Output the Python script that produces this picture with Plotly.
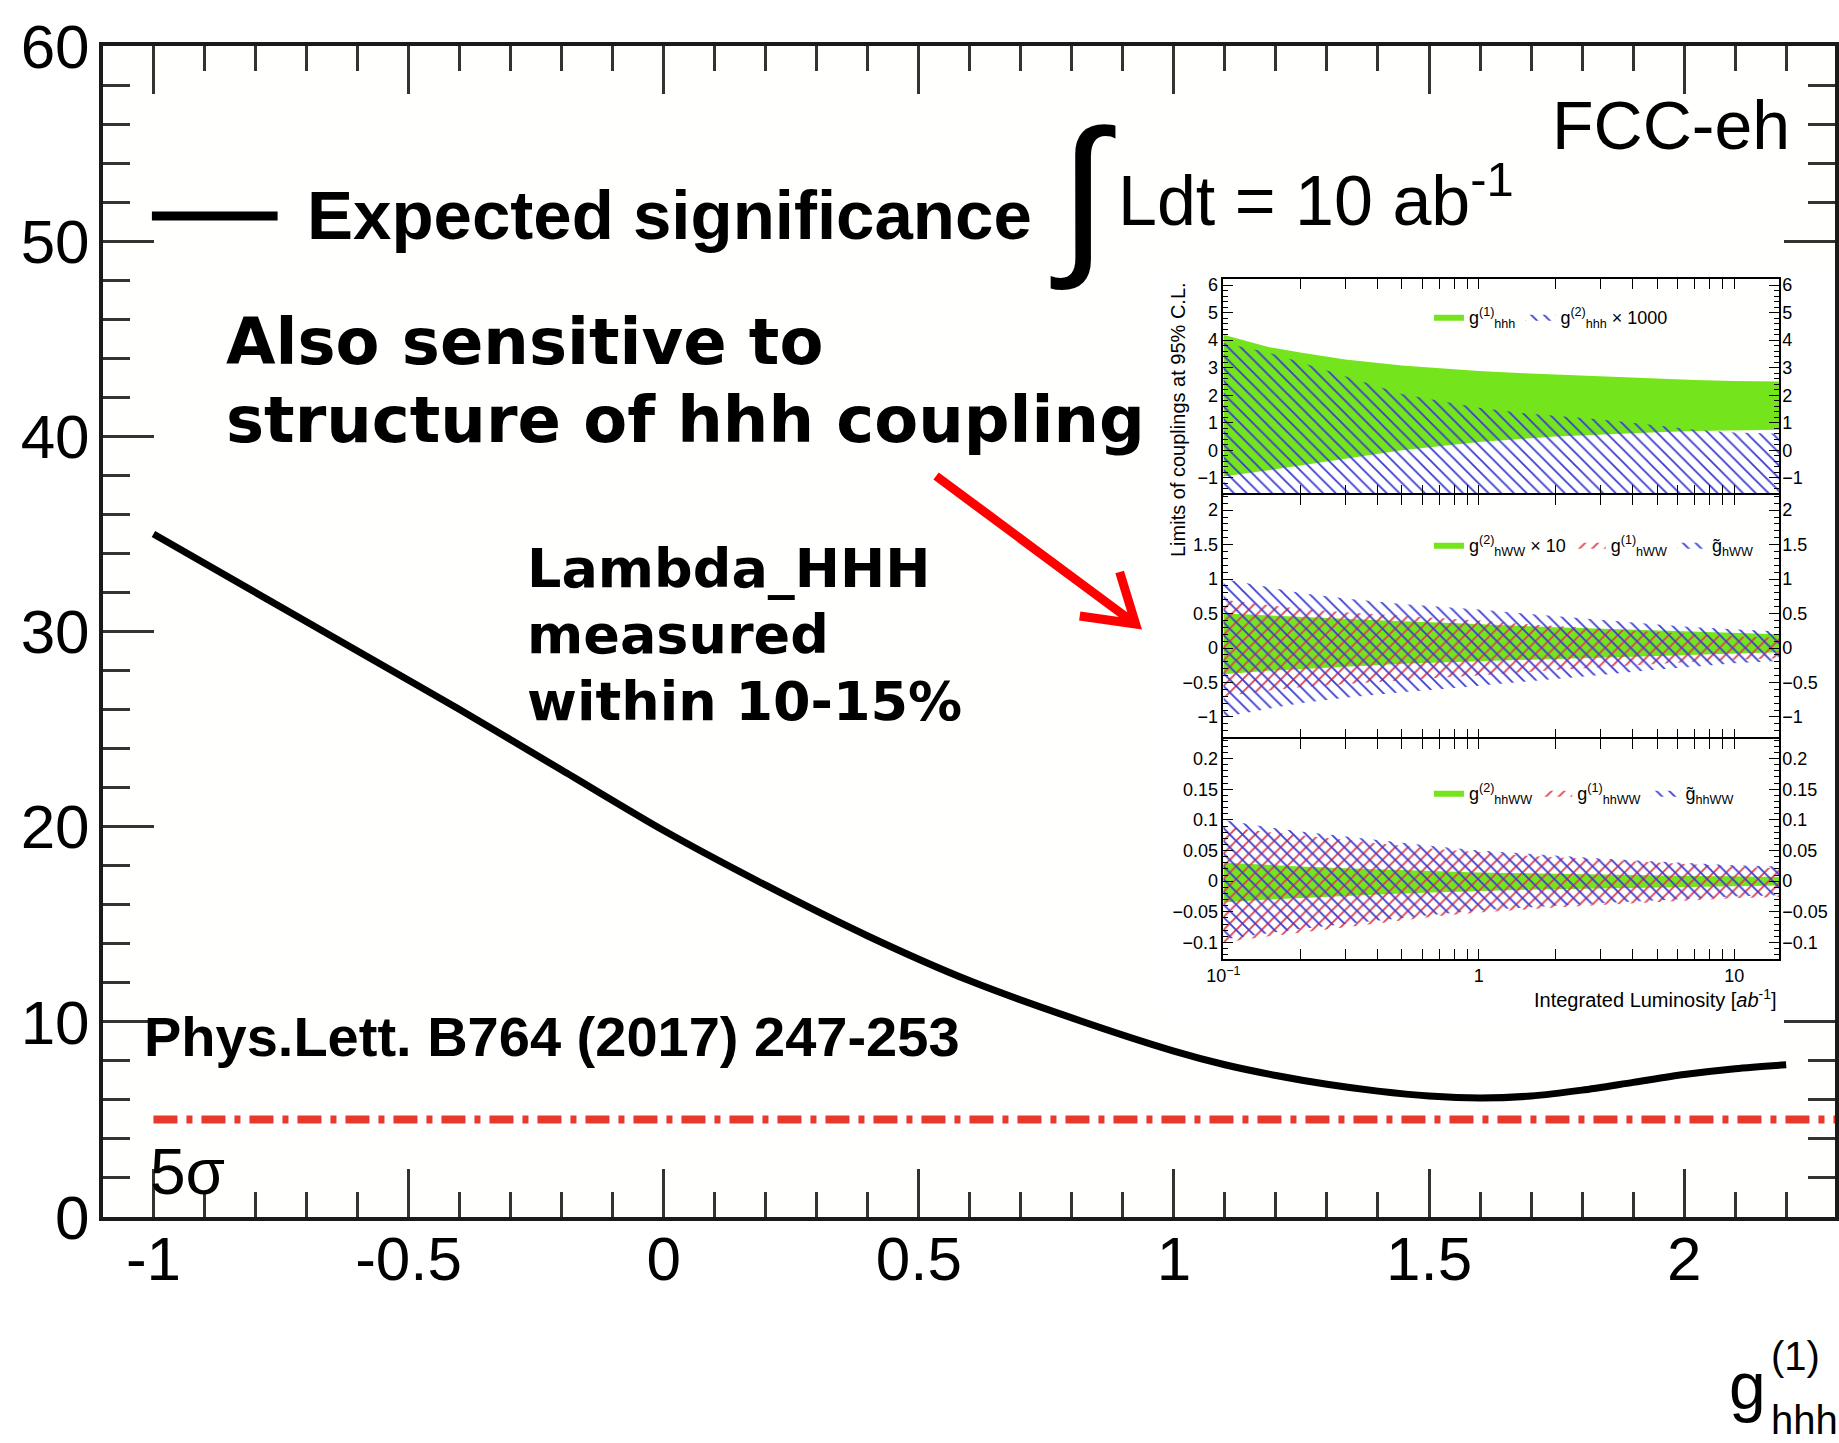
import plotly.graph_objects as go

# ---------------- main chart data ----------------
g_hhh = [-1.0, -0.8, -0.6, -0.4, -0.2, 0.0, 0.2, 0.4, 0.6, 0.8, 1.0, 1.1, 1.2,
         1.3, 1.4, 1.5, 1.6, 1.7, 1.8, 1.9, 2.0, 2.1, 2.2]
significance = [35.0, 32.0, 29.0, 26.0, 22.9, 19.8, 17.0, 14.4, 12.1, 10.2, 8.5, 7.8, 7.25,
                6.8, 6.45, 6.2, 6.1, 6.2, 6.5, 6.9, 7.3, 7.6, 7.8]
five_sigma = 5
x_ticks = [-1, -0.5, 0, 0.5, 1, 1.5, 2]
x_tick_labels = ["-1", "-0.5", "0", "0.5", "1", "1.5", "2"]
y_ticks = [0, 10, 20, 30, 40, 50, 60]
y_tick_labels = ["0", "10", "20", "30", "40", "50", "60"]

# ---------------- inset data (x: integrated luminosity, ab^-1) ----------------
lumi = [0.1, 0.15, 0.2, 0.3, 0.5, 0.7, 1, 1.5, 2, 3, 5, 7, 10, 15]
# top panel
ghhh1_hi = [4.2, 3.75, 3.55, 3.3, 3.08, 2.98, 2.88, 2.8, 2.75, 2.68, 2.6, 2.55, 2.52, 2.5]
ghhh1_lo = [-0.95, -0.72, -0.55, -0.3, 0.0, 0.15, 0.3, 0.42, 0.5, 0.58, 0.66, 0.7, 0.73, 0.75]
ghhh2_hi = [3.9, 3.55, 3.2, 2.7, 2.05, 1.8, 1.55, 1.35, 1.25, 1.12, 0.9, 0.75, 0.65, 0.6]
ghhh2_lo = [-4.5, -4.2, -3.9, -3.6, -3.2, -3.0, -2.8, -2.6, -2.5, -2.4, -2.25, -2.15, -2.05, -2.0]
# middle panel
ghww2_hi = [0.5, 0.47, 0.45, 0.42, 0.39, 0.37, 0.35, 0.32, 0.3, 0.28, 0.25, 0.23, 0.21, 0.2]
ghww2_lo = [-0.38, -0.33, -0.3, -0.27, -0.23, -0.21, -0.19, -0.17, -0.15, -0.13, -0.11, -0.09, -0.08, -0.06]
ghww1_hi = [0.7, 0.62, 0.57, 0.52, 0.47, 0.43, 0.4, 0.35, 0.32, 0.28, 0.23, 0.2, 0.17, 0.15]
ghww1_lo = [-0.7, -0.62, -0.57, -0.52, -0.47, -0.43, -0.4, -0.35, -0.32, -0.28, -0.23, -0.2, -0.17, -0.15]
gthww_hi = [1.0, 0.88, 0.8, 0.72, 0.64, 0.6, 0.56, 0.5, 0.46, 0.41, 0.34, 0.3, 0.27, 0.24]
gthww_lo = [-1.0, -0.88, -0.8, -0.72, -0.64, -0.6, -0.55, -0.49, -0.45, -0.39, -0.31, -0.27, -0.22, -0.19]
# bottom panel
ghhww2_hi = [0.03, 0.026, 0.024, 0.021, 0.018, 0.016, 0.014, 0.013, 0.012, 0.011, 0.0095, 0.0085, 0.008, 0.007]
ghhww2_lo = [-0.035, -0.03, -0.027, -0.024, -0.02, -0.018, -0.016, -0.014, -0.013, -0.012, -0.01, -0.009, -0.008, -0.007]
ghhww1_hi = [0.09, 0.08, 0.075, 0.068, 0.058, 0.052, 0.047, 0.042, 0.039, 0.035, 0.03, 0.027, 0.024, 0.021]
ghhww1_lo = [-0.1, -0.09, -0.083, -0.075, -0.064, -0.057, -0.051, -0.046, -0.043, -0.039, -0.034, -0.031, -0.028, -0.026]
gthhww_hi = [0.1, 0.088, 0.081, 0.073, 0.062, 0.056, 0.05, 0.045, 0.042, 0.037, 0.032, 0.029, 0.026, 0.024]
gthhww_lo = [-0.095, -0.085, -0.078, -0.07, -0.06, -0.054, -0.048, -0.043, -0.04, -0.036, -0.031, -0.028, -0.025, -0.023]

inset_x_ticks = [0.1, 1, 10]
inset_x_tick_labels = ["10<sup>−1</sup>", "1", "10"]
inset_x_minor = [0.2, 0.3, 0.4, 0.5, 0.6, 0.7, 0.8, 0.9, 2, 3, 4, 5, 6, 7, 8, 9]

# ---------------- geometry helpers (pixels -> paper) ----------------
W, H = 1839, 1443
ML, MR, MT, MB = 103, 0, 46, 226
PW, PH = W - ML - MR, H - MT - MB


def fx(p):
    return (p - ML) / PW


def fy(p):
    return (H - MB - p) / PH


FONT = "Liberation Sans, Arial, Helvetica, sans-serif"
HEAVY = "DejaVu Sans, Liberation Sans, sans-serif"
GREEN = "#74e41c"
BLUE = "#3c3cd2"
RED = "#e0404c"

INSET_X = [fx(1226), fx(1783)]
TOP_Y = [fy(495), fy(279)]
MID_Y = [fy(739), fy(495)]
BOT_Y = [fy(959), fy(739)]
BLOCK_X = [fx(1158), 1.0]
BLOCK_Y = [fy(1016), fy(268)]

fig = go.Figure()

# main curve and 5 sigma line
fig.add_trace(go.Scatter(x=g_hhh, y=significance, mode="lines",
                         line=dict(color="black", width=7, shape="spline", smoothing=0.8),
                         showlegend=False, hoverinfo="skip"))
X_RANGE = [-1.0989, 2.2957]
fig.add_trace(go.Scatter(x=[g_hhh[0], X_RANGE[1]], y=[five_sigma, five_sigma], mode="lines",
                         line=dict(color="#e8392c", width=8, dash="24px,9px,6px,9px"),
                         showlegend=False, hoverinfo="skip"))

# blocker subplot (white background for the inset)
fig.add_trace(go.Scatter(x=[], y=[], xaxis="x2", yaxis="y2", showlegend=False, hoverinfo="skip"))


def band(lo, hi, xa, ya, name, legend, kind):
    xs = lumi + lumi[::-1]
    ys = hi + lo[::-1]
    kw = dict(x=xs, y=ys, xaxis=xa, yaxis=ya, mode="lines", fill="toself",
              line=dict(width=0), name=name, legend=legend, hoverinfo="skip")
    if kind == "green":
        kw["fillcolor"] = GREEN
    else:
        kw["fillcolor"] = "rgba(0,0,0,0)"
        kw["fillpattern"] = dict(shape="\\" if kind == "blue" else "/",
                                 fgcolor=BLUE if kind == "blue" else RED,
                                 size=9, solidity=0.2, fillmode="replace")
    return go.Scatter(**kw)


fig.add_trace(band(ghhh1_lo, ghhh1_hi, "x3", "y3", "g<sup>(1)</sup><sub>hhh</sub>", "legend2", "green"))
fig.add_trace(band(ghhh2_lo, ghhh2_hi, "x3", "y3", "g<sup>(2)</sup><sub>hhh</sub> × 1000", "legend2", "blue"))

fig.add_trace(band(ghww2_lo, ghww2_hi, "x4", "y4", "g<sup>(2)</sup><sub>hWW</sub> × 10", "legend3", "green"))
fig.add_trace(band(ghww1_lo, ghww1_hi, "x4", "y4", "g<sup>(1)</sup><sub>hWW</sub>", "legend3", "red"))
fig.add_trace(band(gthww_lo, gthww_hi, "x4", "y4", "g̃<sub>hWW</sub>", "legend3", "blue"))

fig.add_trace(band(ghhww2_lo, ghhww2_hi, "x5", "y5", "g<sup>(2)</sup><sub>hhWW</sub>", "legend4", "green"))
fig.add_trace(band(ghhww1_lo, ghhww1_hi, "x5", "y5", "g<sup>(1)</sup><sub>hhWW</sub>", "legend4", "red"))
fig.add_trace(band(gthhww_lo, gthhww_hi, "x5", "y5", "g̃<sub>hhWW</sub>", "legend4", "blue"))

# empty traces for right-side label axes
for ya, xa in (("y6", "x3"), ("y7", "x4"), ("y8", "x5")):
    fig.add_trace(go.Scatter(x=[], y=[], xaxis=xa, yaxis=ya, showlegend=False, hoverinfo="skip"))

main_tick = dict(ticks="inside", tickcolor="#333", tickwidth=3, showline=True, linecolor="#1a1a1a",
                 linewidth=4, mirror="allticks", showgrid=False, zeroline=False,
                 tickfont=dict(family=FONT, size=62, color="black"))

inset_ax = dict(ticks="inside", tickcolor="black", tickwidth=1, showline=True, linecolor="black",
                linewidth=1.5, mirror="allticks", showgrid=False, zeroline=False,
                tickfont=dict(family=FONT, size=18, color="black"))


def inset_x(show_labels, anchor):
    d = dict(inset_ax, type="log", range=[-1, 1.176], domain=INSET_X, anchor=anchor,
             tickvals=inset_x_ticks, ticktext=inset_x_tick_labels, ticklen=10,
             showticklabels=show_labels,
             minor=dict(tickvals=inset_x_minor, ticklen=5, ticks="inside", tickcolor="black", tickwidth=1))
    return d


def inset_y(rng, dom, dtick, mdtick, anchor):
    return dict(inset_ax, range=rng, domain=dom, anchor=anchor, dtick=dtick, tick0=0, ticklen=10,
                minor=dict(dtick=mdtick, tick0=0, ticklen=5, ticks="inside", tickcolor="black", tickwidth=1))


def right_y(rng, dtick, over, anchor):
    return dict(range=rng, dtick=dtick, tick0=0, overlaying=over, side="right", anchor=anchor,
                ticks="", showline=False, showgrid=False, zeroline=False, ticklabelstandoff=2,
                tickfont=dict(family=FONT, size=18, color="black"))


TOP_R = [-1.62, 6.22]
MID_R = [-1.32, 2.22]
BOT_R = [-0.127, 0.232]

legend_common = dict(xref="paper", yref="paper", xanchor="left", yanchor="middle", orientation="h",
                     bgcolor="rgba(0,0,0,0)", font=dict(family=FONT, size=18, color="black"),
                     itemwidth=30, traceorder="normal")

annotations = []


def ann(text, x, y, size, family=FONT, xanchor="left", yanchor="middle", color="black", angle=0):
    annotations.append(dict(text=text, x=fx(x), y=fy(y), xref="paper", yref="paper", showarrow=False,
                            xanchor=xanchor, yanchor=yanchor, textangle=angle,
                            font=dict(family=family, size=size, color=color)))


ann("<b>Expected significance</b>", 305, 216, 69)
ann("∫", 1050, 193, 175)
ann("Ldt = 10 ab<sup>-1</sup>", 1118, 196, 70)
ann("FCC-eh", 1553, 125, 68)
ann("<b>Also sensitive to</b>", 224, 342, 64, family=HEAVY)
ann("<b>structure of hhh coupling</b>", 224, 420, 64, family=HEAVY)
ann("<b>Lambda_HHH</b>", 526, 568, 54, family=HEAVY)
ann("<b>measured</b>", 526, 634, 54, family=HEAVY)
ann("<b>within 10-15%</b>", 526, 701, 54, family=HEAVY)
ann("<b>Phys.Lett. B764 (2017) 247-253</b>", 142, 1036, 56)
ann("5σ", 148, 1172, 64)
ann("g", 1731, 1386, 66)
ann("(1)", 1773, 1356, 40)
ann("hhh", 1773, 1420, 40)
ann("Limits of couplings at 95% C.L.", 1180, 280, 20, xanchor="center", yanchor="top", angle=-90)
ann("Integrated Luminosity [<i>ab</i><sup>-1</sup>]", 1783, 998, 20, xanchor="right")

shapes = [
    # blocker white rectangle
    dict(type="rect", xref="x2", yref="y2", x0=0, x1=1, y0=0, y1=1, fillcolor="white",
         line=dict(width=0), layer="below"),
    # legend line for main curve
    dict(type="line", xref="paper", yref="paper", x0=fx(152), x1=fx(278), y0=fy(216), y1=fy(216),
         line=dict(color="black", width=9)),
    # red arrow
    dict(type="path", xref="paper", yref="paper",
         path=(f"M{fx(938)},{fy(476)} L{fx(1138)},{fy(624)} "
               f"M{fx(1122)},{fy(572)} L{fx(1138)},{fy(624)} L{fx(1082)},{fy(616)}"),
         line=dict(color="#ff0000", width=9)),
]

fig.update_layout(
    width=W, height=H, margin=dict(l=ML, r=MR, t=MT, b=MB, pad=0),
    paper_bgcolor="#ffffff", plot_bgcolor="#fffffe",
    xaxis=dict(main_tick, domain=[0, 1], anchor="y", range=X_RANGE, tickvals=x_ticks,
               ticktext=x_tick_labels, ticklen=48, ticklabelstandoff=-15,
               minor=dict(dtick=0.1, tick0=-1, ticklen=25, ticks="inside", tickcolor="#333", tickwidth=3)),
    yaxis=dict(main_tick, domain=[0, 1], anchor="x", range=[0, 60], tickvals=y_ticks,
               ticktext=y_tick_labels, ticklen=51, ticklabelstandoff=-3,
               minor=dict(dtick=2, tick0=0, ticklen=27, ticks="inside", tickcolor="#333", tickwidth=3)),
    xaxis2=dict(domain=BLOCK_X, anchor="y2", range=[0, 1], visible=False),
    yaxis2=dict(domain=BLOCK_Y, anchor="x2", range=[0, 1], visible=False),
    xaxis3=inset_x(False, "y3"),
    yaxis3=inset_y(TOP_R, TOP_Y, 1, 0.2, "x3"),
    xaxis4=inset_x(False, "y4"),
    yaxis4=inset_y(MID_R, MID_Y, 0.5, 0.1, "x4"),
    xaxis5=inset_x(True, "y5"),
    yaxis5=inset_y(BOT_R, BOT_Y, 0.05, 0.01, "x5"),
    yaxis6=right_y(TOP_R, 1, "y3", "x3"),
    yaxis7=right_y(MID_R, 0.5, "y4", "x4"),
    yaxis8=right_y(BOT_R, 0.05, "y5", "x5"),
    legend2=dict(legend_common, x=fx(1432), y=fy(317)),
    legend3=dict(legend_common, x=fx(1432), y=fy(545)),
    legend4=dict(legend_common, x=fx(1432), y=fy(793)),
    annotations=annotations,
    shapes=shapes,
)

fig.write_html("out.html")
